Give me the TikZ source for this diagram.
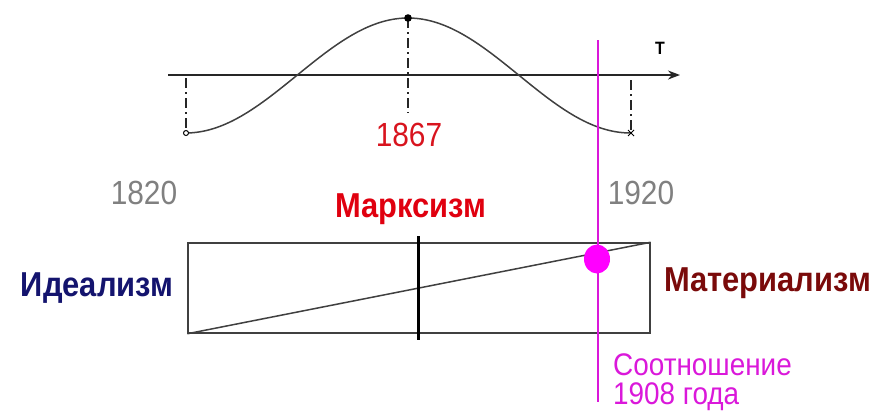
\documentclass[tikz,border=0pt]{standalone}
\usepackage{fontspec}
\setmainfont{Liberation Sans}
\usepackage{graphicx}
\usepackage{tikz}
\usetikzlibrary{arrows.meta, positioning, calc}

\definecolor{yearred}{HTML}{D8141E}
\definecolor{marxred}{HTML}{E0000F}
\definecolor{yeargray}{HTML}{808080}
\definecolor{idealblue}{HTML}{14146E}
\definecolor{materred}{HTML}{7A0A0A}
\definecolor{ratiomag}{HTML}{DA18DA}
\definecolor{dotmag}{HTML}{FF00FF}

\newcommand{\tall}[1]{\scalebox{1}[1.12]{#1}}

\tikzset{
  guide/.style={black!85, line width=1.4bp, dash pattern=on 10bp off 4bp on 2bp off 4bp},
  bigtext/.style={inner sep=0pt, font=\fontsize{30}{32}\selectfont},
  boldtext/.style={bigtext, font=\fontsize{31}{33}\selectfont\bfseries}
}

\begin{document}
\begin{tikzpicture}[x=1bp, y=-1bp]
      \useasboundingbox (0,0) rectangle (875,418);

      % Time axis
      \coordinate (axstart) at (168,75);
      \coordinate (axend) at (680,75);
      \draw[black!85, line width=1.4bp, -{Stealth[length=12bp, width=9bp]}] (axstart) -- (axend);
      \node[inner sep=0pt, font=\fontsize{16}{18}\selectfont\bfseries] (tlabel) at (660,48) {\tall{T}};

      % Wave
      \coordinate (wstart) at (186,133);
      \coordinate (wpeak) at (408,18);
      \coordinate (wend) at (631,133);
      \draw[black!75, line width=1.5bp, domain=186:631, samples=80, smooth]
        plot (\x, {75.5-57.5*cos((\x-408)/222.5*180)});
      \draw[guide] (186,78) -- (wstart);
      \draw[guide] (wpeak) -- (408,113);
      \draw[guide] (631,80) -- (wend);
      \fill (wpeak) circle (3.8bp);
      \draw[black, line width=1bp, fill=white] (wstart) circle (2.5bp);
      \draw[black, line width=1bp] ($(wend)+(-3,-3)$) -- ($(wend)+(3,3)$) ($(wend)+(-3,3)$) -- ($(wend)+(3,-3)$);

      % Years
      \node[bigtext, text=yearred] (y1867) at (409,135) {\tall{1867}};
      \node[bigtext, text=yeargray] (y1820) at (144,193) {\tall{1820}};
      \node[bigtext, text=yeargray] (y1920) at (641,193) {\tall{1920}};
      \node[boldtext, text=marxred] (marx) at (411,209) {\tall{Марксизм}};

      % Scale: idealism -> materialism
      \node[draw=black!75, line width=1.5bp, minimum width=462bp, minimum height=90bp, inner sep=0pt] (scale) at (419,288) {};
      \draw[black!75, line width=1.5bp] (scale.south west) -- (scale.north east);
      \coordinate (marxtop) at (418,236);
      \coordinate (marxbot) at (418,340);
      \draw[black, line width=3bp] (marxtop) -- (marxbot);

      \node[boldtext, text=idealblue, left=14bp of scale] (ideal) {\tall{Идеализм}};
      \node[boldtext, text=materred, anchor=west] (mater) at (664,283) {\tall{Материализм}};

      % Ratio of 1908
      \coordinate (ratiotop) at (598,40);
      \coordinate (ratiobot) at (598,402);
      \draw[ratiomag, line width=1.3bp] (ratiotop) -- (ratiobot);
      \fill[dotmag] (597,259) ellipse (13bp and 14.5bp);
      \node[bigtext, text=ratiomag, anchor=north west, font=\fontsize{28}{30}\selectfont] (ratio) at (613,352)
        {\tall{\begin{tabular}{@{}l@{}}Соотношение\\[-4bp]1908 года\end{tabular}}};
    \end{tikzpicture}
\end{document}
